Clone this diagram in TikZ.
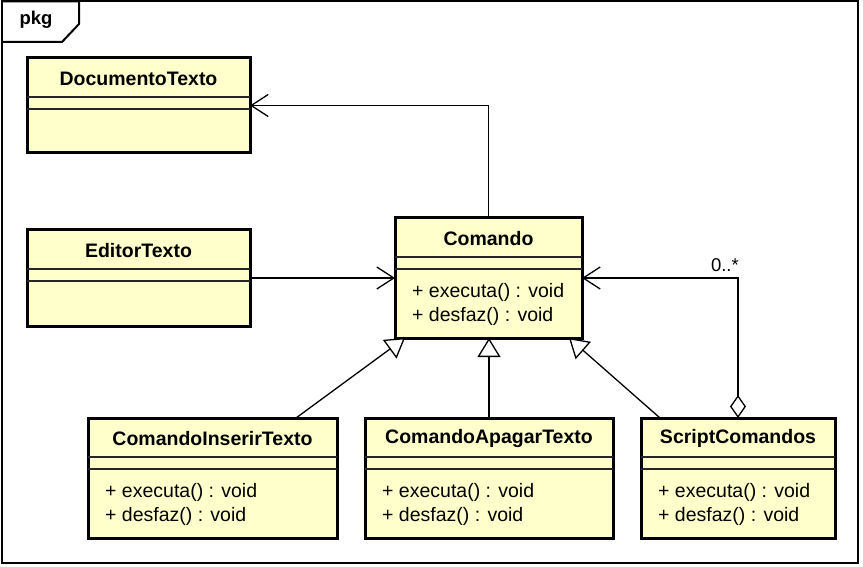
\documentclass[tikz,border=0pt]{standalone}
\usepackage{fontspec}
\setmainfont{Liberation Sans}
\usetikzlibrary{arrows.meta,calc}
\definecolor{umlfill}{RGB}{255,255,204}
\tikzset{
  classbox/.style={draw=black, line width=3pt, fill=umlfill, rectangle, anchor=north west, inner sep=0pt, outer sep=0pt},
  septr/.style={line width=1.4pt, draw=black!85},
  titletext/.style={font=\fontsize{19.5}{22}\selectfont\bfseries, anchor=center, inner sep=0pt},
  pkgtext/.style={font=\fontsize{18.5}{22}\selectfont\bfseries, anchor=center, inner sep=0pt},
  methtext/.style={font=\fontsize{19.5}{22}\selectfont, anchor=west, inner sep=0pt},
  multtext/.style={font=\fontsize{18.5}{22}\selectfont, anchor=base east, inner sep=0pt},
  conn/.style={line width=1.3pt, draw=black},
  assoc/.style={conn, -{Straight Barb[length=17pt,width=22pt,line width=1.3pt]}},
  gen/.style={conn, -{Triangle[open,length=19pt,width=23pt,line width=1.3pt,fill=white]}},
  aggr/.style={conn, {Diamond[open,length=23pt,width=16pt,line width=1.3pt,fill=white]}-{Straight Barb[length=17pt,width=22pt,line width=1.3pt]}},
  framebox/.style={line width=2pt, draw=black}
}
\newcommand\umlclass[6]{%
  \node[classbox, minimum width=#4pt, minimum height=#5pt] (#1) at (#2,#3) {};
  \draw[septr] ($(#1.north west)+(0,39)$) -- ($(#1.north east)+(0,39)$);
  \draw[septr] ($(#1.north west)+(0,51)$) -- ($(#1.north east)+(0,51)$);
  \node[titletext] (#1-title) at ($(#1.north)+(0,20.5)$) {#6};
}
\newcommand\umlmethods[1]{%
  \node[methtext] (#1-m1) at ($(#1.north west)+(17,74)$) {+ executa() : void};
  \node[methtext] (#1-m2) at ($(#1.north west)+(17,98)$) {+ desfaz() : void};
}
\begin{document}
\begin{tikzpicture}[x=1pt,y=-1pt]
  \useasboundingbox (0,0) rectangle (863,567);
  % frame
  \draw[framebox] (1.5,1.5) rectangle (858,563);
  \draw[framebox] (1.5,1.5) -- (79,1.5) -- (79,24) -- (62,42) -- (1.5,42);
  \node[pkgtext] (pkg) at (36,20) {pkg};
  % classes
  \umlclass{doc}{27}{58}{223}{95}{DocumentoTexto}
  \umlclass{editor}{27}{230}{223}{96}{EditorTexto}
  \umlclass{comando}{395}{218}{187}{120}{Comando}
  \umlmethods{comando}
  \umlclass{inserir}{88}{418}{249}{120}{ComandoInserirTexto}
  \umlmethods{inserir}
  \umlclass{apagar}{365}{418}{248}{120}{ComandoApagarTexto}
  \umlmethods{apagar}
  \umlclass{script}{641}{418}{194}{120}{ScriptComandos}
  \umlmethods{script}
  % connectors
  \draw[assoc] (editor.east) -- (comando.west);
  \draw[assoc] (comando.north) |- (doc.east);
  \coordinate (aggcorner) at (script.north |- comando.east);
  \draw[aggr] (script.north) -- (aggcorner) -- (comando.east);
  \node[multtext] (mult) at ($(aggcorner)+(1,-6)$) {0..*};
  \draw[gen] ($(inserir.north west)+(208,0)$) -- ($(comando.south west)+(10,0)$);
  \draw[gen] (apagar.north) -- (apagar.north |- comando.south);
  \draw[gen] ($(script.north west)+(19,0)$) -- ($(comando.south east)+(-13,0)$);
\end{tikzpicture}
\end{document}
